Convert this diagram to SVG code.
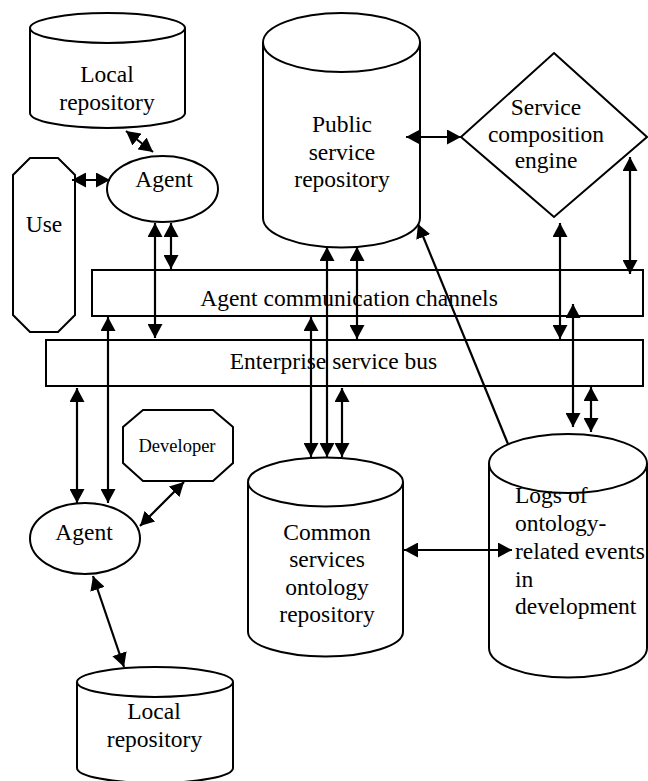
<svg xmlns="http://www.w3.org/2000/svg" width="648" height="781" viewBox="0 0 648 781">
<style>
.s{fill:#fff;stroke:#000;stroke-width:2}
.t{font-family:"Liberation Serif","Times New Roman",serif;font-size:23.5px;fill:#000;text-anchor:middle}
.ts{font-family:"Liberation Serif","Times New Roman",serif;font-size:18.5px;fill:#000;text-anchor:middle}
.l{text-anchor:start}
.c{fill:none;stroke:#000;stroke-width:2.2;marker-end:url(#ah)}
.d{marker-start:url(#ah)}
</style>
<defs>
<marker id="ah" markerUnits="userSpaceOnUse" markerWidth="14" markerHeight="15" viewBox="0 0 14 15" refX="14" refY="7.5" orient="auto-start-reverse">
<path d="M0,0 L14,7.5 L0,15 Z" fill="#000"/>
</marker>
</defs>
<rect width="648" height="781" fill="#fff"/>

<g id="local-repo-top">
<path class="s" d="M30,28 L30,113 A77.5,15 0 0 0 185,113 L185,28"/>
<ellipse class="s" cx="107.5" cy="28" rx="77.5" ry="15"/>
<text class="t" x="107" y="82">Local</text>
<text class="t" x="107" y="110">repository</text>
</g>

<g id="public-repo">
<path class="s" d="M263,42.5 L263,218 A78.5,29.5 0 0 0 420,218 L420,42.5"/>
<ellipse class="s" cx="341.5" cy="42.5" rx="78.5" ry="29.5"/>
<text class="t" x="342" y="132">Public</text>
<text class="t" x="342" y="159.5">service</text>
<text class="t" x="342" y="187">repository</text>
</g>

<g id="engine">
<polygon class="s" points="554,53 647,137 554,217 461,137"/>
<text class="t" x="546" y="115">Service</text>
<text class="t" x="546" y="142">composition</text>
<text class="t" x="546" y="168">engine</text>
</g>

<g id="agent-top">
<ellipse class="s" cx="162.5" cy="189" rx="55.5" ry="33"/>
<text class="t" x="164" y="187">Agent</text>
</g>

<g id="use">
<polygon class="s" points="30,158 58,158 75,175 75,315 58,332 30,332 13,315 13,175"/>
<text class="t" x="44" y="232">Use</text>
</g>

<g id="acc">
<rect class="s" x="92" y="270" width="551" height="46"/>
<text class="t" x="349" y="306">Agent communication channels</text>
</g>

<g id="esb">
<rect class="s" x="46" y="340" width="597" height="46"/>
<text class="t" x="333.5" y="368.5">Enterprise service bus</text>
</g>

<g id="developer">
<polygon class="s" points="143,410 213,410 233,427 233,463 213,481 143,481 123,463 123,427"/>
<text class="ts" x="177" y="452">Developer</text>
</g>

<g id="agent-bottom">
<ellipse class="s" cx="85" cy="538.5" rx="55" ry="35.5"/>
<text class="t" x="84" y="540">Agent</text>
</g>

<g id="common-repo">
<path class="s" d="M248,482 L248,632 A77.5,24.5 0 0 0 403,632 L403,482"/>
<ellipse class="s" cx="325.5" cy="482" rx="77.5" ry="24.5"/>
<text class="t" x="327" y="539.5">Common</text>
<text class="t" x="327" y="567">services</text>
<text class="t" x="327" y="594.5">ontology</text>
<text class="t" x="327" y="622">repository</text>
</g>

<g id="logs">
<path class="s" d="M489,463.5 L489,648 A79,29.5 0 0 0 647,648 L647,463.5"/>
<ellipse class="s" cx="568" cy="463.5" rx="79" ry="29.5"/>
<text class="t l" x="515" y="503">Logs of</text>
<text class="t l" x="515" y="531">ontology-</text>
<text class="t l" x="515" y="559">related events</text>
<text class="t l" x="515" y="586.5">in</text>
<text class="t l" x="515" y="614">development</text>
</g>

<g id="local-repo-bottom">
<path class="s" d="M77,682 L77,768 A78,15 0 0 0 233,768 L233,682"/>
<ellipse class="s" cx="155" cy="682" rx="78" ry="15"/>
<text class="t" x="154" y="719">Local</text>
<text class="t" x="154.5" y="747">repository</text>
</g>

<g id="connectors">
<line class="c d" x1="126" y1="131" x2="153" y2="152"/>
<line class="c d" x1="72" y1="180" x2="110" y2="180"/>
<line class="c d" x1="155" y1="223" x2="155" y2="338"/>
<line class="c d" x1="171" y1="223" x2="171" y2="269"/>
<line class="c d" x1="108" y1="317" x2="108" y2="503"/>
<line class="c d" x1="77" y1="388" x2="77" y2="503"/>
<line class="c d" x1="406" y1="137" x2="461" y2="137"/>
<line class="c d" x1="630" y1="157" x2="630" y2="274"/>
<line class="c d" x1="560" y1="223" x2="560" y2="339"/>
<line class="c d" x1="573" y1="304" x2="573" y2="427"/>
<line class="c d" x1="591" y1="387" x2="591" y2="432"/>
<line class="c" x1="508" y1="444" x2="418" y2="224"/>
<line class="c d" x1="311" y1="317" x2="311" y2="457"/>
<line class="c d" x1="327" y1="247" x2="327" y2="457"/>
<line class="c d" x1="342" y1="388" x2="342" y2="457"/>
<line class="c d" x1="357" y1="247" x2="357" y2="339"/>
<line class="c d" x1="404" y1="550" x2="512" y2="550"/>
<line class="c d" x1="184" y1="482" x2="140" y2="526"/>
<line class="c d" x1="93" y1="576" x2="124" y2="667"/>
</g>
</svg>
